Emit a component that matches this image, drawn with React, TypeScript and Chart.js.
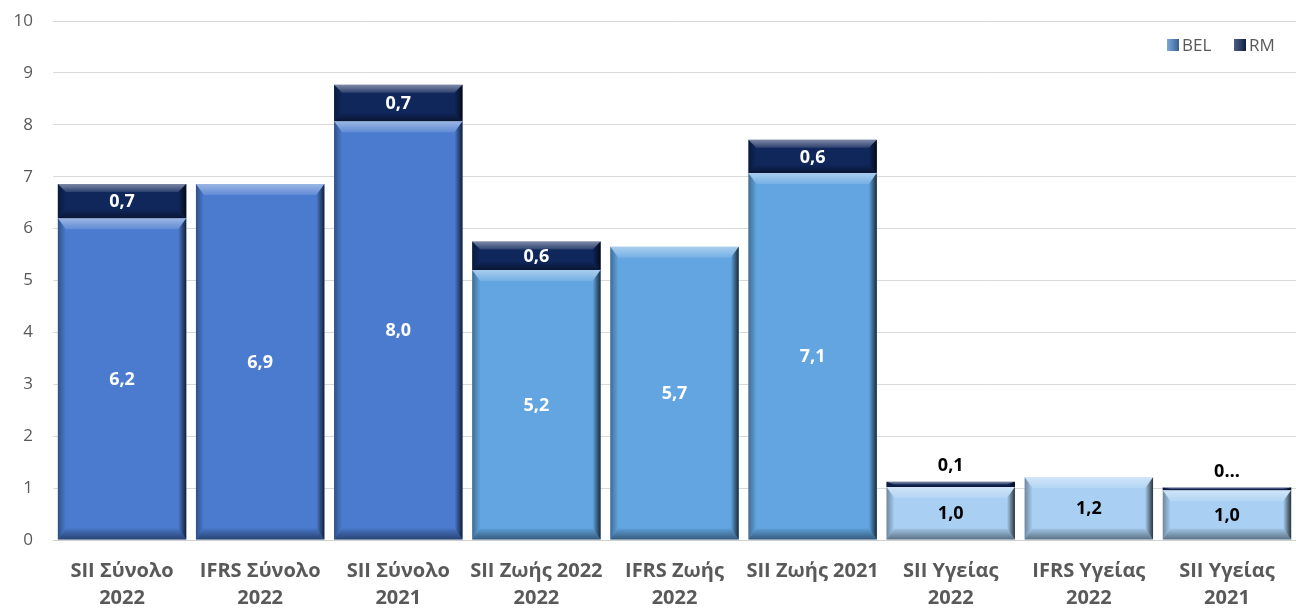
import React, { useEffect, useRef } from "react";
import { Chart, registerables } from "chart.js";

Chart.register(...registerables);

const categories: string[][] = [
  ["SII Σύνολο", "2022"],
  ["IFRS Σύνολο", "2022"],
  ["SII Σύνολο", "2021"],
  ["SII Ζωής 2022", "2022"],
  ["IFRS Ζωής", "2022"],
  ["SII Ζωής 2021", ""],
  ["SII Υγείας", "2022"],
  ["IFRS Υγείας", "2022"],
  ["SII Υγείας", "2021"],
];
const belValues = [6.2, 6.86, 8.07, 5.2, 5.65, 7.07, 1.02, 1.21, 0.96];
const rmValues: (number | null)[] = [0.66, null, 0.7, 0.55, null, 0.64, 0.1, null, 0.05];
const belLabels = ["6,2", "6,9", "8,0", "5,2", "5,7", "7,1", "1,0", "1,2", "1,0"];
const rmLabels: (string | null)[] = ["0,7", null, "0,7", "0,6", null, "0,6", "0,1", null, "0…"];
const yTicks = [0, 1, 2, 3, 4, 5, 6, 7, 8, 9, 10];
const legendNames = ["BEL", "RM"];

const belColors = [
  "#4a7bcf", "#4a7bcf", "#4a7bcf",
  "#62a5e1", "#62a5e1", "#62a5e1",
  "#a9cff2", "#a9cff2", "#a9cff2",
];
const rmColor = "#10275c";
const legendColors = ["#4f88cc", rmColor];
const FONT = "'Open Sans', 'Noto Sans', sans-serif";

const bevelPlugin = {
  id: "bevel",
  afterDatasetsDraw(chart: any) {
    const ctx = chart.ctx;
    chart.data.datasets.forEach((_: any, di: number) => {
      const meta = chart.getDatasetMeta(di);
      meta.data.forEach((el: any) => {
        const { x, y, base, width } = el.getProps(["x", "y", "base", "width"], true);
        if (y == null || isNaN(y)) return;
        const l = x - width / 2, r = x + width / 2;
        const t = Math.min(y, base), b = Math.max(y, base);
        const h = b - t;
        if (h < 1) return;
        const bv = Math.min(di === 1 ? 8 : 11, h / 2);
        const bs = Math.min(8, width / 2);
        ctx.save();
        let g = ctx.createLinearGradient(0, t, 0, t + bv);
        g.addColorStop(0, "rgba(255,255,255,0.45)");
        g.addColorStop(1, "rgba(255,255,255,0.12)");
        ctx.beginPath();
        ctx.moveTo(l, t); ctx.lineTo(r, t); ctx.lineTo(r - bs, t + bv); ctx.lineTo(l + bs, t + bv); ctx.closePath();
        ctx.fillStyle = g; ctx.fill();
        g = ctx.createLinearGradient(0, b, 0, b - bv);
        g.addColorStop(0, "rgba(0,0,0,0.45)");
        g.addColorStop(1, "rgba(0,0,0,0.05)");
        ctx.beginPath();
        ctx.moveTo(l, b); ctx.lineTo(r, b); ctx.lineTo(r - bs, b - bv); ctx.lineTo(l + bs, b - bv); ctx.closePath();
        ctx.fillStyle = g; ctx.fill();
        g = ctx.createLinearGradient(l, 0, l + bs, 0);
        g.addColorStop(0, "rgba(0,0,0,0.35)");
        g.addColorStop(1, "rgba(0,0,0,0.0)");
        ctx.beginPath();
        ctx.moveTo(l, t); ctx.lineTo(l + bs, t + bv); ctx.lineTo(l + bs, b - bv); ctx.lineTo(l, b); ctx.closePath();
        ctx.fillStyle = g; ctx.fill();
        g = ctx.createLinearGradient(r, 0, r - bs, 0);
        g.addColorStop(0, "rgba(0,0,0,0.75)");
        g.addColorStop(1, "rgba(0,0,0,0.0)");
        ctx.beginPath();
        ctx.moveTo(r, t); ctx.lineTo(r - bs, t + bv); ctx.lineTo(r - bs, b - bv); ctx.lineTo(r, b); ctx.closePath();
        ctx.fillStyle = g; ctx.fill();
        ctx.restore();
      });
    });
  },
};

const labelPlugin = {
  id: "barLabels",
  afterDatasetsDraw(chart: any) {
    const ctx = chart.ctx;
    ctx.save();
    ctx.font = `bold 18px ${FONT}`;
    ctx.textAlign = "center";
    ctx.textBaseline = "middle";
    const belMeta = chart.getDatasetMeta(0);
    belMeta.data.forEach((el: any, i: number) => {
      const { x, y, base } = el.getProps(["x", "y", "base"], true);
      ctx.fillStyle = i >= 6 ? "#000000" : "#ffffff";
      ctx.fillText(belLabels[i], x, (y + base) / 2 + 1);
    });
    const rmMeta = chart.getDatasetMeta(1);
    rmMeta.data.forEach((el: any, i: number) => {
      const lab = rmLabels[i];
      if (!lab || rmValues[i] == null) return;
      const { x, y, base } = el.getProps(["x", "y", "base"], true);
      const h = Math.abs(base - y);
      if (h < 20) {
        ctx.fillStyle = "#000000";
        ctx.fillText(lab, x, y - 16);
      } else {
        ctx.fillStyle = "#ffffff";
        ctx.fillText(lab, x, (y + base) / 2 + 1);
      }
    });
    ctx.font = `17px ${FONT}`;
    ctx.textAlign = "left";
    const ly = 45;
    const xs = [1167, 1234];
    legendNames.forEach((name, i) => {
      ctx.fillStyle = legendColors[i];
      ctx.fillRect(xs[i], ly - 6, 12, 12);
      const g = ctx.createLinearGradient(xs[i], 0, xs[i] + 12, 0);
      g.addColorStop(0, "rgba(255,255,255,0.25)");
      g.addColorStop(1, "rgba(0,0,0,0.3)");
      ctx.fillStyle = g;
      ctx.fillRect(xs[i], ly - 6, 12, 12);
      ctx.fillStyle = "#595959";
      ctx.fillText(name, xs[i] + 15, ly + 1);
    });
    ctx.restore();
  },
};

export default function App() {
  const ref = useRef<HTMLCanvasElement>(null);
  useEffect(() => {
    document.body.style.margin = "0";
    const chart = new Chart(ref.current!, {
      type: "bar",
      data: {
        labels: categories,
        datasets: [
          {
            label: legendNames[0],
            data: belValues,
            backgroundColor: belColors,
            borderWidth: 0,
            barPercentage: 0.93,
            categoryPercentage: 1,
          },
          {
            label: legendNames[1],
            data: rmValues,
            backgroundColor: rmColor,
            borderWidth: 0,
            barPercentage: 0.93,
            categoryPercentage: 1,
          },
        ],
      },
      options: {
        animation: false,
        responsive: false,
        layout: { padding: { top: 21, right: 0, left: 0, bottom: 0 } },
        plugins: {
          tooltip: { enabled: false },
          legend: { display: false },
        },
        scales: {
          x: {
            stacked: true,
            afterFit: (s: any) => {
              s.height = 68;
              s.paddingLeft = 0;
              s.paddingRight = 0;
            },
            grid: { display: false, drawTicks: false },
            border: { display: true, color: "#d0d0d0", width: 1 },
            ticks: {
              color: "#595959",
              font: { family: FONT, size: 20, weight: "bold", lineHeight: 1.35 },
              padding: 18,
              maxRotation: 0,
              autoSkip: false,
            },
          },
          y: {
            stacked: true,
            min: 0,
            max: 10,
            afterBuildTicks: (s: any) => {
              s.ticks = yTicks.map((v) => ({ value: v }));
            },
            afterFit: (s: any) => {
              s.width = 53;
              s.paddingTop = 0;
              s.paddingBottom = 0;
            },
            grid: { color: "#d9d9d9", drawTicks: false },
            border: { display: false },
            ticks: {
              color: "#595959",
              font: { family: FONT, size: 17 },
              padding: 20,
            },
          },
        },
      } as any,
      plugins: [bevelPlugin, labelPlugin],
    });
    return () => chart.destroy();
  }, []);
  return <canvas ref={ref} width={1296} height={608} style={{ display: "block" }} />;
}
